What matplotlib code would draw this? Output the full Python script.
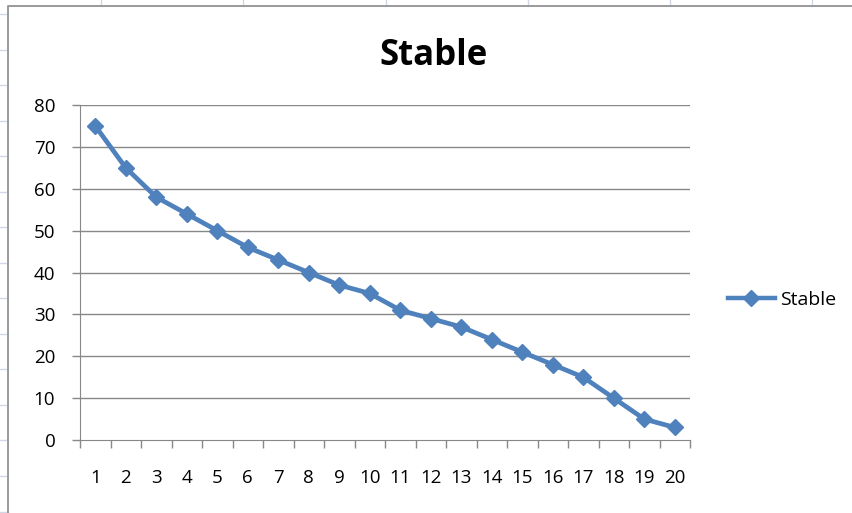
import matplotlib
matplotlib.use("Agg")
import matplotlib.pyplot as plt
from matplotlib.lines import Line2D

categories = [str(i) for i in range(1, 21)]
values = [75, 65, 58, 54, 50, 46, 43, 40, 37, 35, 31, 29, 27, 24, 21, 18, 15, 10, 5, 3]
series_name = "Stable"
title = "Stable"
yticks = [0, 10, 20, 30, 40, 50, 60, 70, 80]

W, H = 852, 513
fig = plt.figure(figsize=(W / 100, H / 100), dpi=100)
fig.patch.set_facecolor("white")

font = "Open Sans"
blue = "#4F81BD"
grid = "#888888"
sheet = "#d0d7e5"

# spreadsheet background lines
bx, by = 8, 6
for xx in [101, 243, 386, 528, 670, 812]:
    fig.add_artist(Line2D([xx / W, xx / W], [1, 1 - by / H], color=sheet, lw=1))
for k in range(0, 15):
    yy = 14 + 35.54 * k
    fig.add_artist(Line2D([0, bx / W], [1 - yy / H, 1 - yy / H], color=sheet, lw=1))
# chart border
fig.add_artist(Line2D([bx / W, bx / W, 1], [0, 1 - by / H, 1 - by / H], color="#9a9a9a", lw=1.4))

ax = fig.add_axes([80 / W, 1 - 440 / H, (690 - 80) / W, (440 - 105) / H])
x = list(range(len(categories)))
ax.plot(x, values, color=blue, lw=3.4, marker="D", markersize=8.5,
        markerfacecolor=blue, markeredgecolor=blue, label=series_name, solid_joinstyle="round")

ax.set_xlim(-0.5, len(categories) - 0.5)
ax.set_ylim(0, 80)
ax.set_yticks(yticks)
ax.set_yticklabels([str(v) for v in yticks], fontsize=13.5, family=font)
ax.set_xticks(x)
ax.set_xticklabels(categories, fontsize=13.5, family=font)
ax.set_xticks([i - 0.5 for i in range(len(categories) + 1)], minor=True)
ax.tick_params(axis="x", which="major", length=0, pad=21)
ax.tick_params(axis="x", which="minor", length=5.8, color=grid, direction="out", width=1)
ax.tick_params(axis="y", length=5.8, color=grid, width=1, pad=12)
for v in yticks[1:]:
    ax.axhline(v, color=grid, lw=1, zorder=0)
for s in ["top", "right"]:
    ax.spines[s].set_visible(False)
ax.spines["left"].set_color(grid)
ax.spines["bottom"].set_color(grid)

fig.text(434 / W, 1 - 65 / H, title, ha="center", va="baseline", fontsize=25,
         fontweight="bold", family=font)

leg = fig.legend(handles=[Line2D([0], [0], color=blue, lw=3.2, marker="D", markersize=8,
                                 markerfacecolor=blue, markeredgecolor=blue)],
                 labels=[series_name], loc="center left",
                 bbox_to_anchor=(728 / W, 1 - 300 / H), frameon=False,
                 prop={"family": font, "size": 14}, handlelength=2.4, handletextpad=0.3,
                 borderpad=0, borderaxespad=0)

fig.savefig("out.png", dpi=100)
